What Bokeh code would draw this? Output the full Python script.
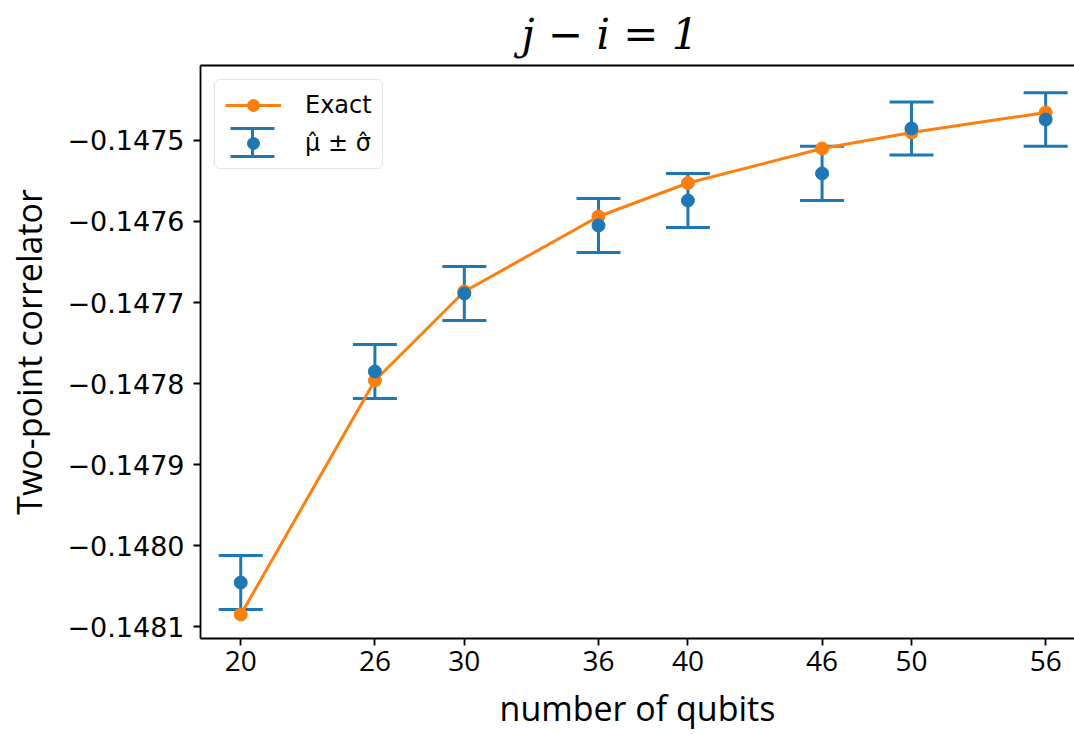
import numpy as np
from bokeh.plotting import figure
from bokeh.models import (ColumnDataSource, Whisker, TeeHead, Legend, LegendItem,
                          FixedTicker, Range1d, CustomJSTickFormatter, LinearAxis)
from bokeh.embed import file_html
from bokeh.resources import INLINE

# ---- data ----
qubits = [20, 26, 30, 36, 40, 46, 50, 56]
exact = [-0.1480852, -0.1477963, -0.1476864, -0.1475938,
         -0.1475525, -0.1475099, -0.1474901, -0.1474654]
mu_hat = [-0.1480457, -0.1477852, -0.1476889, -0.1476049,
          -0.1475741, -0.1475407, -0.1474852, -0.1474741]
sigma_hat = [3.33e-5, 3.33e-5, 3.33e-5, 3.33e-5,
             3.33e-5, 3.35e-5, 3.28e-5, 3.30e-5]
x_ticks = [20, 26, 30, 36, 40, 46, 50, 56]
y_ticks = [-0.1481, -0.1480, -0.1479, -0.1478, -0.1477, -0.1476, -0.1475]

BLUE = "#1f77b4"
ORANGE = "#ff7f0e"

src = ColumnDataSource(dict(
    x=qubits, exact=exact, mu=mu_hat,
    upper=[m + s for m, s in zip(mu_hat, sigma_hat)],
    lower=[m - s for m, s in zip(mu_hat, sigma_hat)],
))

FRAME_H = 573
p = figure(width=1074, height=734,
           x_range=Range1d(18.2, 57.29),
           y_range=Range1d(-0.14811481, -0.14740741),
           output_backend="svg", toolbar_location=None,
           min_border_left=200, min_border_right=0,
           min_border_top=65, min_border_bottom=96)

p.background_fill_color = "white"
p.border_fill_color = "white"
p.outline_line_color = None
p.grid.visible = False

# title
p.title.text = "j \u2212 i = 1"
p.title.text_font = "DejaVu Serif"
p.title.text_font_style = "italic"
p.title.text_font_size = "42px"
p.title.text_color = "black"
p.title.align = "left"
p.title.offset = 321
p.title.standoff = 13

# error bars
def tee():
    return TeeHead(size=44, line_color=BLUE, line_width=3)

wh = Whisker(base="x", upper="upper", lower="lower", source=src,
             line_color=BLUE, line_width=3,
             upper_head=tee(), lower_head=tee(), level="underlay")
p.add_layout(wh)

r_line = p.line("x", "exact", source=src, line_color=ORANGE, line_width=3)
r_exact = p.scatter("x", "exact", source=src, marker="circle", size=13,
                    fill_color=ORANGE, line_color=ORANGE)
r_mu = p.scatter("x", "mu", source=src, marker="circle", size=13,
                 fill_color=BLUE, line_color=BLUE)

# axes
for ax in (p.xaxis[0], p.yaxis[0]):
    ax.axis_line_width = 1.8
    ax.axis_line_color = "black"
    ax.major_tick_line_width = 1.8
    ax.major_tick_line_color = "black"
    ax.major_tick_out = 7
    ax.major_tick_in = 0
    ax.minor_tick_line_color = None
    ax.major_label_text_color = "black"
    ax.axis_label_text_color = "black"

p.xaxis.ticker = FixedTicker(ticks=x_ticks)
p.xaxis.major_label_text_font = "Open Sans"
p.xaxis.major_label_text_font_size = "28px"
p.xaxis.major_label_standoff = 5
p.xaxis.axis_label = "number of qubits"
p.xaxis.axis_label_text_font = "Open Sans"
p.xaxis.axis_label_text_font_size = "34px"
p.xaxis.axis_label_text_font_style = "normal"
p.xaxis.axis_label_standoff = 11

p.yaxis.ticker = FixedTicker(ticks=y_ticks)
p.yaxis.formatter = CustomJSTickFormatter(
    code="return (tick < 0 ? '\\u2212' : '') + Math.abs(tick).toFixed(4);")
p.yaxis.major_label_text_font = "DejaVu Sans"
p.yaxis.major_label_text_font_size = "27px"
p.yaxis.major_label_standoff = 9
p.yaxis.axis_label = "Two-point correlator"
p.yaxis.axis_label_text_font = "Open Sans"
p.yaxis.axis_label_text_font_size = "34px"
p.yaxis.axis_label_text_font_style = "normal"
p.yaxis.axis_label_standoff = 12

top_axis = LinearAxis(ticker=FixedTicker(ticks=[]),
                      major_label_text_font_size="0px",
                      major_label_standoff=0,
                      major_tick_out=0, major_tick_in=0,
                      minor_tick_out=0, minor_tick_in=0,
                      axis_line_width=1.8, axis_line_color="black")
p.add_layout(top_axis, "above")

# legend
L_MARGIN, L_PAD, G_W, G_H, L_SP = 14, 10, 56, 30, 8
legend = Legend(items=[
    LegendItem(label="Exact", renderers=[r_line, r_exact]),
    LegendItem(label="\u03bc\u0302 \u00b1 \u03c3\u0302", renderers=[r_mu]),
], location="top_left", margin=L_MARGIN, padding=L_PAD, spacing=L_SP,
    glyph_width=G_W, glyph_height=G_H, label_height=G_H, label_standoff=24,
    label_text_font="DejaVu Sans", label_text_font_size="24px",
    label_text_color="black",
    border_line_color="#cccccc", border_line_width=1.5, border_radius=6,
    background_fill_alpha=0.0)
p.add_layout(legend)

# error-bar icon for the second legend entry (screen units, frame-relative)
icon_cx = L_MARGIN + L_PAD + G_W / 2
icon_cy = FRAME_H - (L_MARGIN + L_PAD + G_H + L_SP + G_H / 2)
icon_src = ColumnDataSource(dict(b=[icon_cx], u=[icon_cy + 14], l=[icon_cy - 14]))
legend_icon = Whisker(base="b", upper="u", lower="l", source=icon_src,
                      base_units="screen", upper_units="screen", lower_units="screen",
                      line_color=BLUE, line_width=3,
                      upper_head=tee(), lower_head=tee(), level="overlay")
p.add_layout(legend_icon)

open("out.html", "w").write(file_html(p, INLINE))
